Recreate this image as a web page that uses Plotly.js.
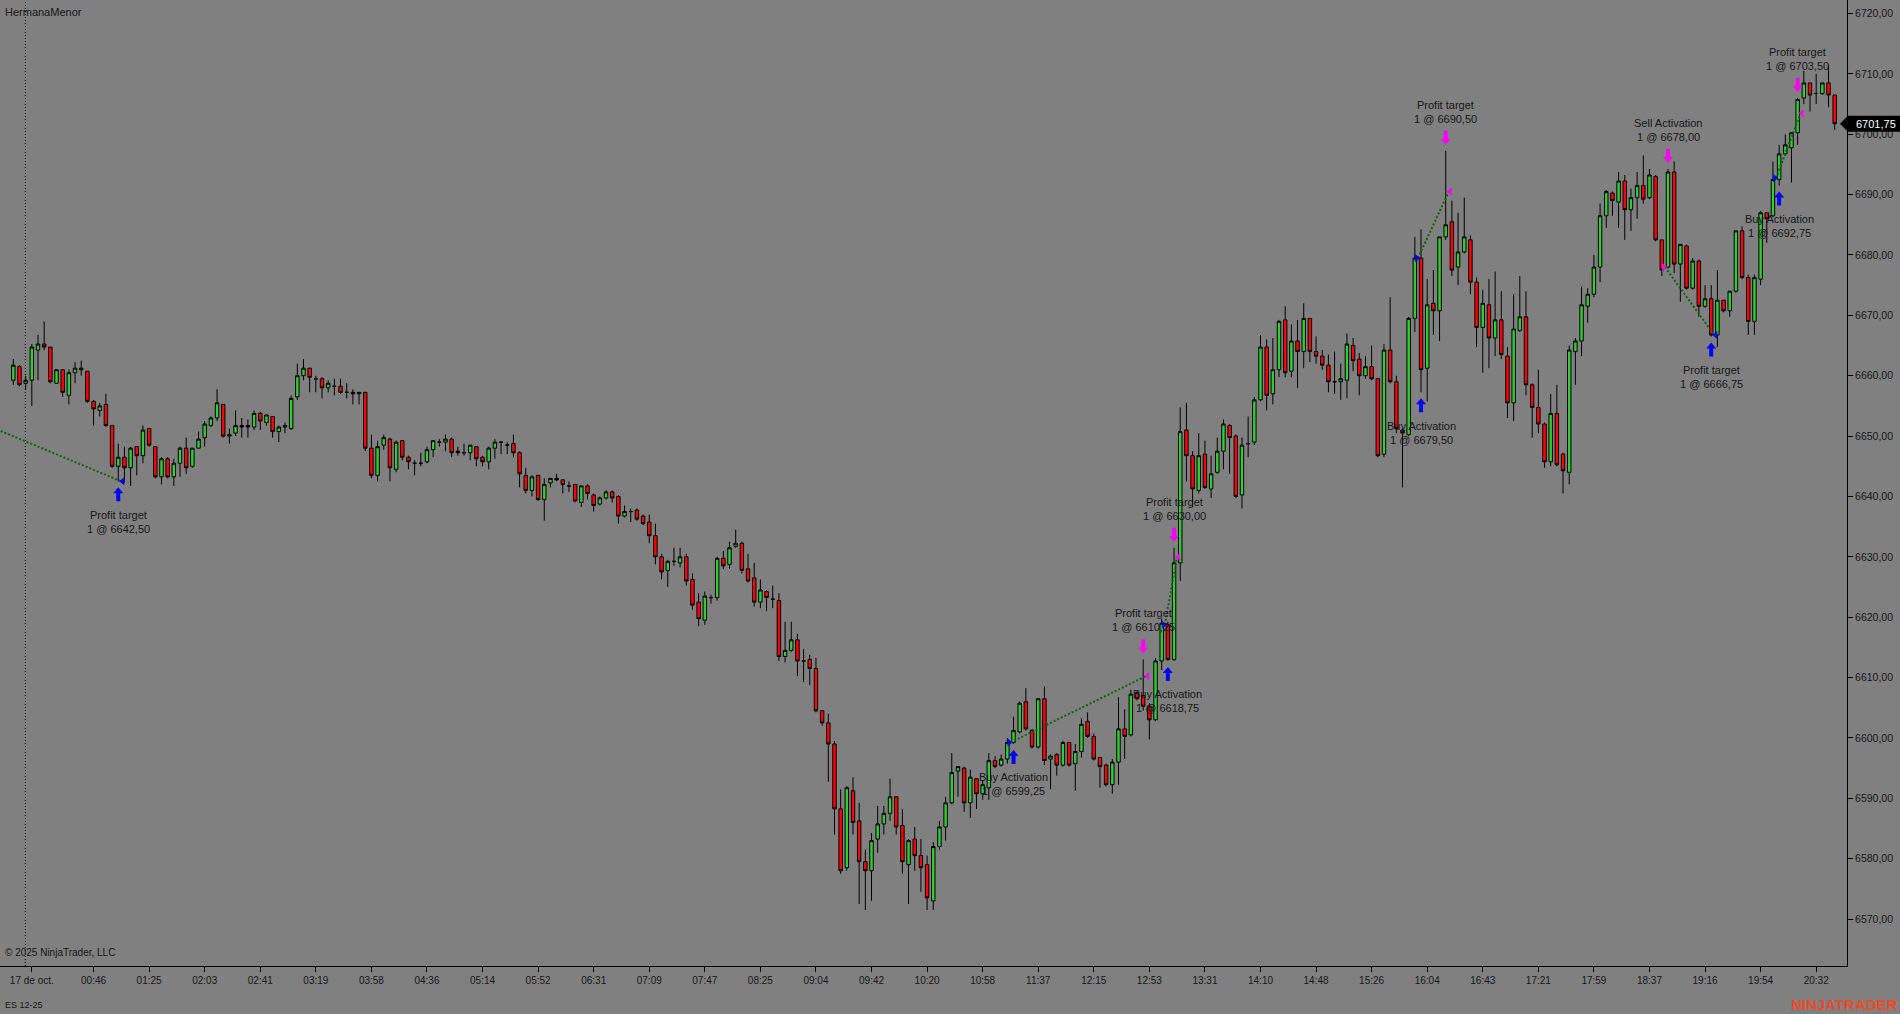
<!DOCTYPE html>
<html>
<head>
<meta charset="utf-8">
<script src="https://cdn.plot.ly/plotly-3.0.1.min.js"></script>
<style>
html,body{margin:0;padding:0;background:#808080;overflow:hidden;}
#chart{width:1900px;height:1014px;}
</style>
</head>
<body>
<div id="chart"></div>
<script>
// ---------------- DATA ----------------
const barOpen = [
6659.25,6661.5,6658.75,6659.25,6664.25,6665.25,6664.75,6658.75,6661,6656.75,
6660.5,6661.25,6660.75,6655.75,6654.25,6655.25,6651.75,6645,6646.5,6644.75,
6648.25,6646.75,6651.25,6648.25,6643.25,6646.25,6643.25,6645.5,6648,6645,
6648,6649.75,6651.75,6653,6655.25,6650,6650.5,6651.75,6651.75,6651.5,
6653.75,6652.25,6653.25,6650.75,6651.5,6651.25,6656.5,6660,6661.25,6659.5,
6659.5,6658,6658.25,6658.25,6657.25,6657.25,6657,6657.25,6648,6643.5,
6648.5,6649.5,6644.5,6649.25,6646.5,6645.5,6645.5,6645.75,6647.75,6649,
6649,6649.5,6647.5,6647.25,6647.25,6648.25,6646.5,6645.75,6648,6649,
6648.5,6648.75,6647.25,6643.5,6641,6643.5,6639.5,6642.25,6643,6642.75,
6641.75,6642,6639,6641.75,6640.25,6638.75,6639.75,6640.75,6640,6636.75,
6637.5,6637.75,6636.75,6635.75,6633.5,6630,6627.75,6629.25,6629,6630,
6626.25,6622.5,6619.5,6623.25,6623.25,6629.75,6628.75,6631.75,6632.25,6628,
6626.5,6622.5,6624.25,6623,6622.75,6613.5,6614.5,6616.25,6612.75,6613,
6611.5,6604.5,6602.5,6599,6588.25,6578.5,6591.25,6586.25,6579.5,6578,
6583.25,6585.75,6587.5,6590.25,6585.5,6579,6583.25,6580.5,6579,6573,
6582,6585.25,6589.25,6594.5,6595,6589.25,6593.25,6590.75,6591.75,6596.25,
6595.5,6596.5,6599.25,6601,6606,6601.25,6598.5,6606.5,6596.5,6597.25,
6595.5,6599.25,6595.75,6597.75,6602.75,6600.25,6596.75,6595.5,6592.25,6596,
6601.5,6600.5,6607.5,6607,6605.25,6603,6612.75,6618.75,6613,6629,
6651,6646.75,6641,6647,6641.25,6644,6647.5,6651.75,6650,6640.25,
6648.75,6649,6656,6664.75,6657,6661,6669.25,6660.75,6665.75,6664,
6669.5,6664,6663.25,6661.75,6659,6659,6659.25,6665,6662.75,6660,
6661.5,6659.5,6647,6664.25,6659,6651,6650.25,6669.5,6679.5,6661.25,
6672,6670.75,6683,6685.5,6678,6680.5,6682.5,6675.5,6668,6671.75,
6666.25,6669.25,6663.25,6655.5,6667.5,6669.75,6658.5,6654.75,6652,6645.75,
6653.75,6647,6644,6664,6665.75,6671.5,6673.5,6678,6686.5,6690.25,
6688.75,6692.25,6687.5,6689.5,6691.5,6689.5,6693,6682.5,6678,6693.75,
6678.5,6681.5,6674.5,6679,6671.5,6672.75,6666.75,6672.5,6670.75,6674,
6684,6676.25,6669,6676,6687,6686.5,6692.5,6696.75,6697.75,6700.25,
6706,6708.5,6706.75,6706.75,6708.5,6706.5
];
const barHigh = [
6662.75,6661.75,6660,6665.25,6666.75,6669,6664.75,6661,6661,6661,
6662.25,6662.5,6660.75,6656,6655.5,6657,6651.75,6648.75,6648.25,6648.25,
6648.25,6651.75,6651.25,6648.25,6646.5,6646.5,6646.25,6648.25,6649.75,6648,
6650.75,6652.5,6653.25,6657.75,6655.25,6651.25,6654.25,6653,6652.75,6654.25,
6654,6653.5,6653.25,6651.75,6652.25,6656.75,6662,6662.75,6661.25,6660,
6659.75,6659.25,6659.5,6659.5,6658.75,6657.75,6657.25,6657.25,6650.25,6649.25,
6650.25,6649.75,6649.25,6649.25,6646.75,6646,6647.25,6648.25,6649.25,6649.5,
6650.25,6649.75,6648.25,6648.75,6648.5,6648.25,6646.75,6648.25,6649.5,6649,
6649,6650.25,6647.5,6644.75,6643.5,6643.5,6643,6643,6643.75,6642.75,
6642.5,6642,6641.75,6642,6640.5,6640,6641,6641,6640.25,6638.5,
6638,6638,6637,6637,6635.5,6630.5,6629.5,6631.5,6631.5,6630.5,
6627.25,6624,6624.25,6623.75,6630,6631,6632.5,6634.5,6632.5,6630.5,
6629,6626.25,6624.5,6625.25,6624,6619.25,6619.25,6617.25,6614.75,6613.75,
6613.25,6604.5,6604,6599.5,6591.5,6592,6593.5,6589.25,6581.5,6584.25,
6588.75,6588.75,6593.25,6590.25,6588.25,6583.25,6585.25,6583.25,6580.5,6582.75,
6586.25,6590.25,6597.5,6595.25,6595.25,6594.75,6593.25,6593,6597.5,6597,
6597.25,6600,6603.5,6606,6608.25,6601.5,6606.5,6608.5,6597.25,6597.5,
6599.5,6599.25,6599,6603.25,6604.25,6600.75,6596.75,6595.75,6596.5,6606.75,
6604.75,6608,6607.75,6613,6605.75,6613.25,6619.75,6619.25,6631.5,6654.75,
6655.5,6647.5,6650.5,6649.25,6646.75,6649.75,6652.75,6652,6650.25,6649.75,
6653.25,6656.5,6666.75,6666,6666.25,6669.25,6671.5,6668.5,6669.25,6672,
6669.5,6666.5,6664.25,6663.5,6664,6662,6667,6666.25,6663.75,6663.25,
6665,6659.5,6665.25,6673,6660,6651.25,6669.75,6683,6684.25,6676,
6677.5,6683,6697.25,6689,6687,6689.5,6683.25,6676.25,6674.25,6676,
6677.25,6674,6664.75,6673.5,6676.5,6674,6658.75,6661,6652.25,6657,
6658.5,6647.25,6665,6666.25,6674.75,6674.5,6680,6688.5,6690.75,6690.5,
6693.75,6693.25,6691,6693.75,6696.5,6694.25,6693.25,6682.5,6694.25,6695.5,
6681.75,6681.75,6679.5,6679.25,6675,6675,6677.5,6672.5,6674,6684,
6684.75,6676.75,6676.75,6687.25,6687,6695.5,6698.25,6700,6700.25,6706,
6710.5,6708.5,6710,6708.5,6711.5,6706.5
];
const barLow = [
6658.5,6658.25,6657.75,6655,6659.25,6664.25,6658.75,6658.75,6656.5,6655.25,
6658.75,6660,6655.5,6651.75,6653.25,6651.5,6644.75,6642.5,6642.25,6641.75,
6643.5,6645.5,6648.25,6643,6642,6643,6641.75,6643.25,6643.75,6644.75,
6648,6648.25,6651.5,6652.5,6649.75,6648.75,6650,6649.75,6649.75,6651,
6651,6651.75,6649.75,6649,6650.5,6651,6656,6659.25,6657.25,6657.25,
6656.25,6657.25,6656.75,6657,6656.25,6655.25,6655.25,6647.5,6643,6642.5,
6647.75,6642.5,6644,6646,6644.5,6643.5,6645,6645.5,6646.5,6648.25,
6647.5,6646.5,6646.75,6646.75,6646,6645,6645,6644.5,6646.25,6647,
6647,6646.5,6641.5,6640.5,6640,6639.25,6636,6641.5,6642.5,6640.5,
6640.75,6639,6638.25,6639.5,6637.5,6638.5,6639.5,6639,6635.5,6636.5,
6635.75,6636,6635.25,6632.25,6628.75,6626.25,6625,6628.5,6628.25,6625.25,
6621.25,6618.5,6618.75,6622.25,6622.75,6628,6628,6631.5,6627.25,6625.75,
6621.75,6621.5,6621,6621.5,6612.75,6612.5,6614.25,6610.25,6609.25,6608.75,
6604.25,6602,6592.75,6584,6577.5,6578,6584,6572.5,6571.5,6573,
6581,6584,6586.25,6584,6577.5,6572.5,6578,6574.5,6571.5,6571.5,
6581.5,6583,6589,6590.25,6587.75,6586.75,6588.25,6589.75,6589.75,6595,
6595.25,6595.75,6599,6600.75,6601.25,6598.25,6598.25,6595.5,6591.5,6593.75,
6595.25,6595.25,6591.25,6596.75,6600,6596.25,6591.75,6592,6590.75,6592.25,
6596.5,6600.25,6606.25,6604.5,6599.75,6602.75,6611.25,6612.75,6612.75,6626,
6642.5,6638.25,6640.5,6641.25,6639.75,6643.75,6644.5,6643.75,6639.75,6638,
6646.5,6648.5,6655.75,6654.25,6655.25,6659.75,6659.75,6659.75,6658,6661.25,
6662.25,6662,6661,6657.25,6657,6656,6656.25,6660.75,6656.75,6659.5,
6659.25,6646.5,6646.5,6658.75,6650.5,6641.5,6650,6667.25,6657.25,6655.75,
6666.75,6665.75,6682.5,6676.5,6675,6680.25,6673.5,6664.75,6660.5,6661.25,
6663.25,6662.75,6653,6652.5,6667.25,6656.75,6649.75,6650.5,6644.75,6645,
6645,6640.5,6642,6658.5,6663.25,6668.75,6673,6675.5,6684.5,6686.5,
6684.5,6682.5,6684,6686,6688.5,6689.25,6682.25,6676.5,6677.75,6677,
6672.25,6674.25,6674.25,6669.75,6671.25,6666.5,6664.75,6670.5,6669.75,6673.75,
6676,6666.75,6666.75,6675,6682,6686.25,6691.5,6696.5,6692,6698.25,
6705,6703.75,6705,6706.5,6704.5,6700.75
];
const barClose = [
6661.75,6658.5,6659.25,6664.75,6665.25,6664.75,6659,6661,6657.25,6660.5,
6661.25,6661,6655.75,6654.5,6655,6651.75,6645,6646.5,6644.75,6648,
6646.75,6651,6648.5,6643.25,6646.25,6643.25,6645.5,6648,6644.75,6648,
6649.5,6652,6653,6655.5,6650,6650.25,6651.75,6651.5,6651.5,6653.75,
6652.5,6653.5,6650.75,6651.5,6651.75,6656.25,6660,6661.25,6659.75,6659.5,
6658,6658.75,6658.25,6657.25,6657.25,6657,6657.25,6648,6643.5,6648.25,
6649.75,6644.75,6649,6646.5,6645.75,6645.5,6645.5,6647.75,6649.25,6649,
6649.5,6647.25,6647.25,6647.25,6648.5,6646.25,6645.75,6648,6649,6649,
6648.5,6647.25,6643.75,6641,6643.25,6639.5,6642,6643,6642.75,6642,
6641.75,6639.25,6641.75,6640.5,6638.5,6639.75,6640.75,6639.75,6636.75,6637.5,
6637.5,6636.25,6635.5,6633.5,6630,6627.5,6629.25,6629.25,6630,6626,
6622,6619.75,6623.5,6623.25,6629.75,6628.5,6631.5,6632.25,6627.75,6626,
6622.5,6624.5,6623.25,6623,6613.5,6614.5,6616.25,6612.75,6612.75,6611.5,
6604.5,6602.5,6599,6588.25,6578,6591.75,6586,6579.5,6578,6583,
6585.75,6587.5,6590.25,6585.25,6579.5,6583,6580.5,6578.5,6573.5,6582,
6585.25,6589.25,6594.25,6595.25,6589.25,6593.5,6590.75,6592.25,6596.25,6595.25,
6596.5,6599.25,6601.25,6605.75,6601.5,6598.5,6606.5,6596.25,6597,6595.5,
6599.25,6595.5,6597.75,6602.25,6600.25,6596.5,6595.25,6592.25,6596,6601.5,
6600.25,6607.25,6606.5,6605.25,6603,6612.75,6619,6613,6629,6650.75,
6646.75,6641.25,6646.75,6641.5,6643.75,6647.5,6652,6649.75,6640,6648.5,
6648.75,6656,6664.75,6656.75,6661,6669,6660.5,6665.75,6664,6669.5,
6664,6663.25,6661.75,6659,6659,6659.5,6665.25,6662.5,6660,6661.5,
6659.5,6646.75,6664.25,6659,6651.25,6650.5,6669.5,6679.5,6661,6671.75,
6670.75,6683,6685,6677.5,6680.5,6683,6675.5,6668,6672,6666.25,
6669.25,6663.5,6655.5,6667.75,6669.75,6658.5,6654.75,6652,6645.75,6653.75,
6645.25,6644.25,6664.25,6665.75,6671.75,6673.5,6678,6686.5,6690.5,6689,
6692.25,6687.5,6689.5,6691.5,6689.25,6693.25,6682.5,6677.5,6693.75,6678.5,
6681.75,6674.5,6679,6671.5,6672.75,6666.75,6672.5,6670.75,6674,6684,
6676.25,6669,6676.25,6687,6686,6692.5,6696.75,6698.25,6700.25,6705.75,
6708.5,6706.5,6706.75,6708.5,6706.5,6701.75
];

const tickBars = [3,13,22,31,40,49,58,67,76,85,94,103,112,121,130,139,148,157,166,175,184,193,202,211,220,229,238,247,256,265,274,283,292];
const tickLabels = ['17 de oct.','00:46','01:25','02:03','02:41','03:19','03:58','04:36','05:14','05:52','06:31','07:09','07:47','08:25','09:04','09:42','10:20','10:58','11:37','12:15','12:53','13:31','14:10','14:48','15:26','16:04','16:43','17:21','17:59','18:37','19:16','19:54','20:32'];

// trades (first one entered before the visible window)
const tradeSide  = ['short','long','long','long','short','long'];
const entryBar   = [-2.15, 162, 187, 228, 268, 286];
const entryPrice = [6651.1, 6599.25, 6618.75, 6679.50, 6678.00, 6692.75];
const entryLabel = ['', 'Buy Activation', 'Buy Activation', 'Buy Activation', 'Sell Activation', 'Buy Activation'];
const exitBar    = [17, 183, 188, 232, 275, 289];
const exitPrice  = [6642.50, 6610.25, 6630.00, 6690.50, 6666.75, 6703.50];
const exitLabel  = ['Profit target','Profit target','Profit target','Profit target','Profit target','Profit target'];
const tradeQty   = [1, 1, 1, 1, 1, 1];

const sessionBreakBar = 2;
const instrument = 'ES 12-25';
const strategyName = 'HermanaMenor';

// ---------------- LAYOUT GEOMETRY ----------------
const plotRightPx = 1847, plotBottomPx = 966;
const firstBarPx = 13.3, lastBarPx = 1834.7;
const nBars = barOpen.length;
const pxPerBar = (lastBarPx - firstBarPx) / (nBars - 1);
const xMin = -firstBarPx / pxPerBar;
const xMax = xMin + plotRightPx / pxPerBar;
const yMin = 6562.22, yMax = 6722.24;

const BLUE = '#0000FF', PINK = '#FF00FF', TRADE_LINE = '#0b640b';
const FONT = 'Liberation Sans, Arial, sans-serif';
const TXT = '#161616';

const idx = barOpen.map((_, i) => i);
const fmt = p => p.toFixed(2).replace('.', ',');

const traces = [{
  type: 'candlestick',
  x: idx, open: barOpen, high: barHigh, low: barLow, close: barClose,
  increasing: {line: {color: '#000000', width: 1}, fillcolor: '#32CD32'},
  decreasing: {line: {color: '#000000', width: 1}, fillcolor: '#FF0000'},
  whiskerwidth: 0, hoverinfo: 'skip', showlegend: false
}];

const shapes = [];
const annotations = [];
const dx = 3 / pxPerBar;

// session break
shapes.push({type: 'line', xref: 'x', yref: 'paper', x0: sessionBreakBar - 0.05, x1: sessionBreakBar - 0.05, y0: 0, y1: 1,
  line: {color: '#000000', width: 1, dash: '1px,2px'}, layer: 'below'});

function pxPath(xa, ya, path, color) {
  shapes.push({type: 'path', xref: 'x', yref: 'y', xsizemode: 'pixel', ysizemode: 'pixel',
    xanchor: xa, yanchor: ya, path: path, fillcolor: color, line: {width: 0}, layer: 'above'});
}
const upArrow = 'M0,-6 L5,-12 L2,-12 L2,-20 L-2,-20 L-2,-12 L-5,-12 Z';
const downArrow = 'M0,6 L5,12 L2,12 L2,20 L-2,20 L-2,12 L-5,12 Z';
const rightTri = 'M-1,0 L-6,4 L-6,-4 Z';
const leftTri = 'M1,0 L6,4 L6,-4 Z';

function label(bar, below, l1, l2) {
  const y = below ? barLow[bar] : barHigh[bar];
  const s1 = below ? -33.5 : 46;
  const s2 = below ? -47.5 : 32;
  [[l1, s1], [l2, s2]].forEach(([t, s]) => annotations.push({
    xref: 'x', yref: 'y', x: bar, y: y, yshift: s, text: t, showarrow: false,
    xanchor: 'center', yanchor: 'middle', font: {family: FONT, size: 11, color: TXT}
  }));
}

for (let k = 0; k < tradeSide.length; k++) {
  const isLong = tradeSide[k] === 'long';
  // dotted connector
  traces.push({type: 'scatter', mode: 'lines', x: [entryBar[k] - dx, exitBar[k] + dx], y: [entryPrice[k], exitPrice[k]],
    line: {color: TRADE_LINE, width: 2, dash: '2px,2px'}, hoverinfo: 'skip', showlegend: false});
  // entry
  if (entryBar[k] >= 0) {
    const eb = entryBar[k];
    const col = isLong ? BLUE : PINK;
    pxPath(eb, entryPrice[k], rightTri, col);
    if (isLong) pxPath(eb, barLow[eb], upArrow, col); else pxPath(eb, barHigh[eb], downArrow, col);
    label(eb, isLong, entryLabel[k], tradeQty[k] + ' @ ' + fmt(entryPrice[k]));
  }
  // exit
  const xb = exitBar[k];
  const xcol = isLong ? PINK : BLUE;
  pxPath(xb, exitPrice[k], leftTri, xcol);
  if (isLong) pxPath(xb, barHigh[xb], downArrow, xcol); else pxPath(xb, barLow[xb], upArrow, xcol);
  label(xb, !isLong, exitLabel[k], tradeQty[k] + ' @ ' + fmt(exitPrice[k]));
}

// last price tag
const lastClose = barClose[nBars - 1];
shapes.push({type: 'path', xref: 'paper', yref: 'y', xsizemode: 'pixel', ysizemode: 'pixel',
  xanchor: 1, yanchor: lastClose, path: 'M-7,0 L1,8 L60,8 L60,-8 L1,-8 Z',
  fillcolor: '#000000', line: {width: 0}, layer: 'above'});
annotations.push({xref: 'paper', yref: 'y', x: 1, xshift: 7, y: lastClose, text: fmt(lastClose), showarrow: false,
  xanchor: 'left', yanchor: 'middle', font: {family: FONT, size: 11, color: '#ffffff'}});

// corner texts
annotations.push({xref: 'paper', yref: 'paper', x: 0, xshift: 3, y: 1, yshift: -12, text: strategyName, showarrow: false,
  xanchor: 'left', yanchor: 'middle', font: {family: FONT, size: 11, color: TXT}});
annotations.push({xref: 'paper', yref: 'paper', x: 0, xshift: 3, y: 0, yshift: 14, text: '© 2025 NinjaTrader, LLC', showarrow: false,
  xanchor: 'left', yanchor: 'middle', font: {family: FONT, size: 10, color: TXT}});
annotations.push({xref: 'paper', yref: 'paper', x: 0, xshift: 3, y: 0, yshift: -39, text: instrument, showarrow: false,
  xanchor: 'left', yanchor: 'middle', font: {family: FONT, size: 9, color: TXT}});
annotations.push({xref: 'paper', yref: 'paper', x: 1, xshift: 53, y: 0, yshift: -38, text: '<b>NINJATRADER</b>', showarrow: false,
  xanchor: 'right', yanchor: 'middle', font: {family: FONT, size: 15, color: '#EE4A26'}});

const layout = {
  width: 1900, height: 1014,
  margin: {l: 0, r: 1900 - plotRightPx, t: 0, b: 1014 - plotBottomPx, pad: 0},
  paper_bgcolor: '#808080', plot_bgcolor: '#808080',
  separators: ',.',
  showlegend: false,
  boxgap: 0.2,
  xaxis: {
    range: [xMin, xMax], rangeslider: {visible: false}, showgrid: false, zeroline: false,
    showline: true, linecolor: '#000000', linewidth: 1,
    ticks: 'outside', ticklen: 5, tickcolor: '#000000', tickwidth: 1,
    tickmode: 'array', tickvals: tickBars, ticktext: tickLabels,
    tickfont: {family: FONT, size: 10, color: TXT}, fixedrange: true
  },
  yaxis: {
    range: [yMin, yMax], side: 'right', showgrid: false, zeroline: false,
    showline: true, linecolor: '#000000', linewidth: 1,
    ticks: 'outside', ticklen: 5, tickcolor: '#000000', tickwidth: 1,
    dtick: 10, tickformat: '.2f',
    tickfont: {family: FONT, size: 10.5, color: TXT}, fixedrange: true
  },
  shapes: shapes,
  annotations: annotations
};

Plotly.newPlot('chart', traces, layout, {staticPlot: true, displayModeBar: false});
</script>
</body>
</html>
